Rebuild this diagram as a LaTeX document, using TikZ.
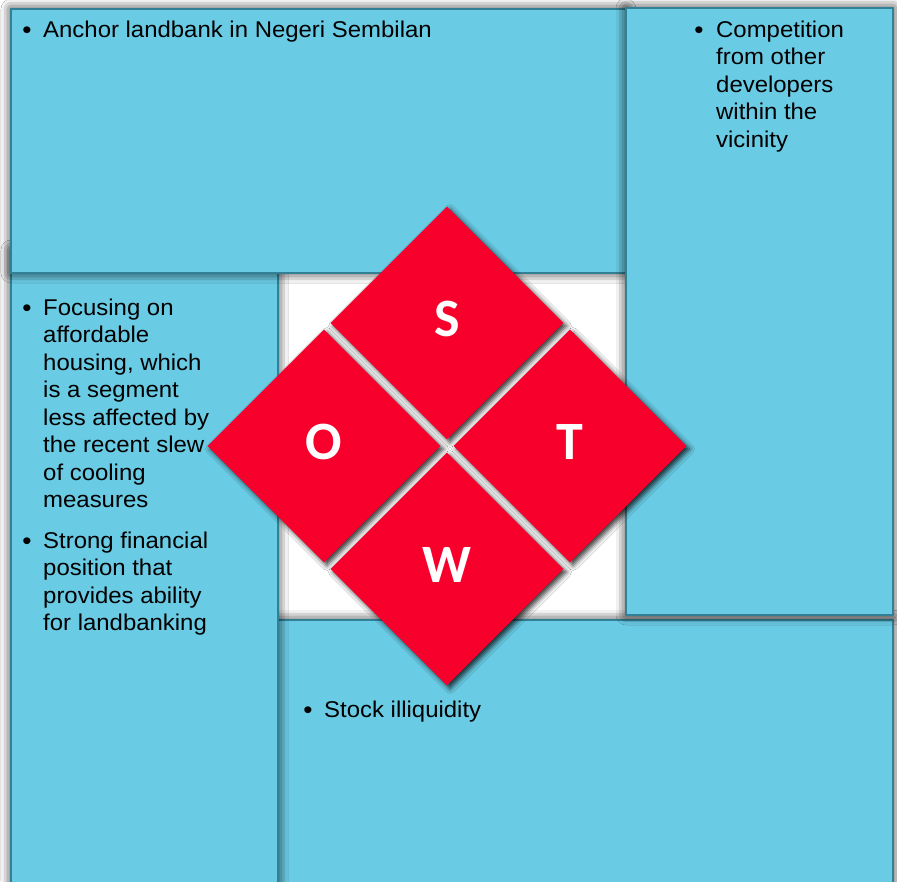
\documentclass[tikz,border=0pt]{standalone}
\usepackage{fontspec}
\setmainfont{Liberation Sans}[FakeStretch=1.05]
\newfontfamily\lettfont{Carlito}
\usetikzlibrary{shapes.geometric,shadows.blur}
\definecolor{panel}{RGB}{106,203,228}
\definecolor{paneledge}{RGB}{50,128,150}
\definecolor{swotred}{RGB}{248,0,44}
\begin{document}
\begin{tikzpicture}[x=1pt,y=-1pt,
  panel/.style={fill=panel, draw=paneledge, line width=1.2pt,
    blur shadow={shadow xshift=0pt, shadow yshift=0pt, shadow blur radius=10pt, shadow opacity=90}},
  quad/.style={diamond, fill=swotred, minimum width=233pt, minimum height=233pt, inner sep=0pt,
    blur shadow={shadow xshift=3pt, shadow yshift=-3pt, shadow blur radius=5pt, shadow opacity=80}},
  letter/.style={text=white, inner sep=0pt, font=\lettfont\bfseries\fontsize{54}{54}\selectfont},
  bul/.style={anchor=base, inner sep=0pt, font=\fontsize{25}{27.5}\selectfont},
  txt/.style={anchor=base west, inner sep=0pt, align=left, font=\fontsize{22.8}{27.5}\selectfont}]
\useasboundingbox (0,0) rectangle (897,881);
\clip (0,0) rectangle (897,881);
\fill[white] (0,0) rectangle (897,881);

% four panels, stacked so each overlaps the next one round the centre
\path[panel] (270,620) rectangle (893,900);
\path[panel] (11,250) rectangle (278,900);
\path[panel] (11,9) rectangle (626,273);
\path[panel] (626,8) rectangle (893,615);

% the SWOT diamond
\node[quad] (s) at (447,323) {};
\node[quad] (o) at (324,446) {};
\node[quad] (t) at (570,446) {};
\node[quad] (w) at (447,569) {};
\node[letter, yshift=4pt] (sl) at (s) {S};
\node[letter, yshift=4pt] (ol) at (o) {O};
\node[letter, yshift=4pt] (tl) at (t) {T};
\node[letter, yshift=4pt] (wl) at (w) {W};

% bullet points (a multi-line node sits on the baseline of its last line)
\node[bul] (b1) at (27,38) {\textbullet};
\node[txt] (t1) at (43,37) {Anchor landbank in Negeri Sembilan};
\node[bul] (b2) at (699,38) {\textbullet};
\node[txt] (t2) at (716,147) {Competition\\from other\\developers\\within the\\vicinity};
\node[bul] (b3) at (27,316) {\textbullet};
\node[txt] (t3) at (43,507.5) {Focusing on\\affordable\\housing, which\\is a segment\\less affected by\\the recent slew\\of cooling\\measures};
\node[bul] (b4) at (27,549) {\textbullet};
\node[txt] (t4) at (43,630.5) {Strong financial\\position that\\provides ability\\for landbanking};
\node[bul] (b5) at (308,718) {\textbullet};
\node[txt] (t5) at (324,717) {Stock illiquidity};
\end{tikzpicture}
\end{document}
